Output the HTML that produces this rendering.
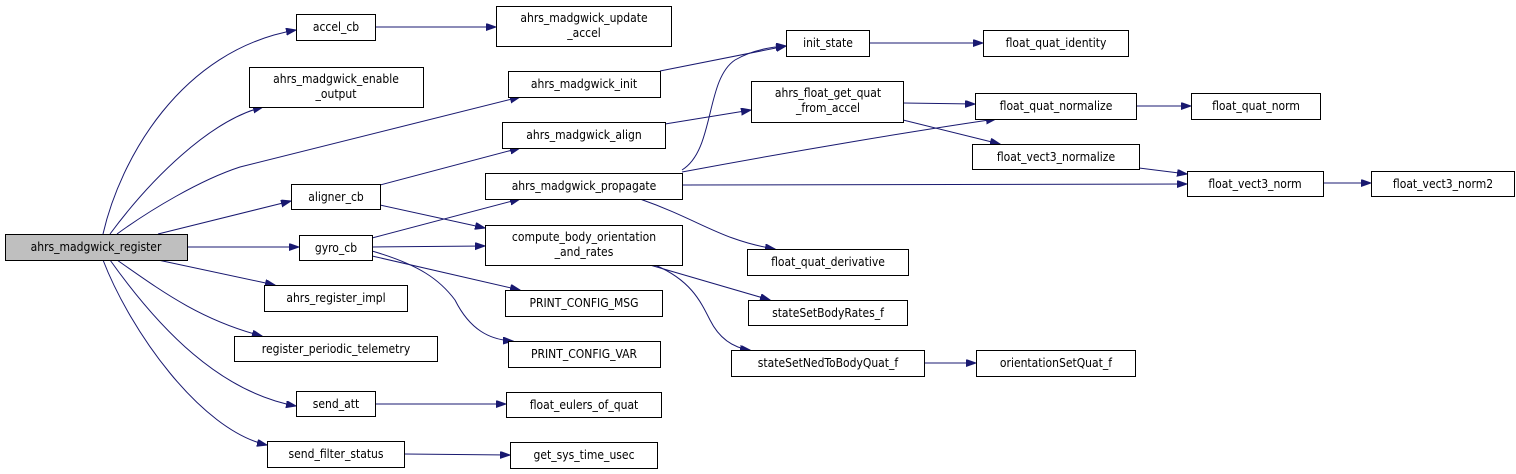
<!DOCTYPE html>
<html><head><meta charset="utf-8"><style>
html,body{margin:0;padding:0;background:#fff;}
svg{display:block}
text{font-family:"DejaVu Sans Condensed","DejaVu Sans","Liberation Sans",sans-serif;font-size:12px;fill:#000;text-anchor:middle}
rect{fill:#fff;stroke:#000;stroke-width:1}
path.e{fill:none;stroke:#191970;stroke-width:1}
</style></head><body>
<svg width="1516" height="474" viewBox="0 0 1516 474" xmlns="http://www.w3.org/2000/svg">
<defs><marker id="a" markerWidth="11" markerHeight="8" refX="10" refY="3.5" orient="auto" markerUnits="userSpaceOnUse"><path d="M0,0 L10,3.5 L0,7 z" fill="#191970" stroke="#191970"/></marker></defs>
<g marker-end="url(#a)">
<path class="e" d="M103,234 C120,160 180,50 296,30"/>
<path class="e" d="M110,234 C150,180 210,120 263,107"/>
<path class="e" d="M117,234 C150,210 200,180 240,167 L520,97"/>
<path class="e" d="M158,234 L291,201"/>
<path class="e" d="M187,247 L299,247"/>
<path class="e" d="M158,260 L275,285"/>
<path class="e" d="M117,260 C160,290 200,320 262,336"/>
<path class="e" d="M110,260 C160,330 220,392 296,406"/>
<path class="e" d="M103,260 C130,330 200,430 267,445"/>
<path class="e" d="M375,27 L496,27"/>
<path class="e" d="M380,185 L520,148"/>
<path class="e" d="M380,205 L485,228"/>
<path class="e" d="M372,238 L520,199"/>
<path class="e" d="M372,247 L485,246"/>
<path class="e" d="M372,256 L520,290"/>
<path class="e" d="M372,251 C420,265 440,280 455,300 C470,330 490,340 513,341"/>
<path class="e" d="M375,404 L506,404"/>
<path class="e" d="M404,454 L510,455"/>
<path class="e" d="M660,71 L786,46"/>
<path class="e" d="M665,124 L751,110"/>
<path class="e" d="M682,170 C715,150 705,80 735,60 C752,50 770,47 786,46"/>
<path class="e" d="M682,172 C800,150 920,130 996,119"/>
<path class="e" d="M682,185 L1187,184"/>
<path class="e" d="M640,199 C700,220 720,240 775,249"/>
<path class="e" d="M903,103 L975,104"/>
<path class="e" d="M903,120 L1000,144"/>
<path class="e" d="M1136,106 L1191,106"/>
<path class="e" d="M1139,168 L1187,174"/>
<path class="e" d="M1323,183 L1371,183"/>
<path class="e" d="M869,43 L983,43"/>
<path class="e" d="M650,265 L770,300"/>
<path class="e" d="M655,265 C690,280 700,300 710,320 C720,340 735,348 750,350"/>
<path class="e" d="M924,363 L976,363"/>
</g>
<rect x="5.5" y="234.5" width="182" height="26" style="fill:#bfbfbf"/><text x="96" y="251">ahrs_madgwick_register</text>
<rect x="296.5" y="14.5" width="79" height="26"/><text x="336" y="31">accel_cb</text>
<rect x="496.5" y="6.5" width="175" height="40"/><text x="584" y="22">ahrs_madgwick_update</text><text x="584" y="37">_accel</text>
<rect x="249.5" y="67.5" width="174" height="40"/><text x="336" y="83">ahrs_madgwick_enable</text><text x="336" y="98">_output</text>
<rect x="508.5" y="71.5" width="152" height="26"/><text x="584" y="88">ahrs_madgwick_init</text>
<rect x="502.5" y="122.5" width="163" height="26"/><text x="584" y="139">ahrs_madgwick_align</text>
<rect x="291.5" y="184.5" width="89" height="25"/><text x="336" y="201">aligner_cb</text>
<rect x="485.5" y="173.5" width="197" height="26"/><text x="584" y="190">ahrs_madgwick_propagate</text>
<rect x="485.5" y="225.5" width="197" height="40"/><text x="584" y="241">compute_body_orientation</text><text x="584" y="256">_and_rates</text>
<rect x="299.5" y="235.5" width="73" height="25"/><text x="336" y="252">gyro_cb</text>
<rect x="264.5" y="285.5" width="143" height="26"/><text x="336" y="302">ahrs_register_impl</text>
<rect x="505.5" y="290.5" width="157" height="26"/><text x="584" y="307">PRINT_CONFIG_MSG</text>
<rect x="234.5" y="336.5" width="203" height="25"/><text x="336" y="353">register_periodic_telemetry</text>
<rect x="508.5" y="341.5" width="152" height="26"/><text x="584" y="358">PRINT_CONFIG_VAR</text>
<rect x="296.5" y="391.5" width="79" height="25"/><text x="336" y="408">send_att</text>
<rect x="506.5" y="392.5" width="155" height="25"/><text x="584" y="409">float_eulers_of_quat</text>
<rect x="267.5" y="441.5" width="137" height="26"/><text x="336" y="458">send_filter_status</text>
<rect x="510.5" y="442.5" width="147" height="26"/><text x="584" y="459">get_sys_time_usec</text>
<rect x="786.5" y="30.5" width="83" height="26"/><text x="828" y="47">init_state</text>
<rect x="983.5" y="30.5" width="145" height="26"/><text x="1056" y="47">float_quat_identity</text>
<rect x="751.5" y="81.5" width="152" height="41"/><text x="828" y="97">ahrs_float_get_quat</text><text x="828" y="112">_from_accel</text>
<rect x="975.5" y="93.5" width="161" height="26"/><text x="1056" y="110">float_quat_normalize</text>
<rect x="1191.5" y="93.5" width="129" height="26"/><text x="1256" y="110">float_quat_norm</text>
<rect x="972.5" y="144.5" width="167" height="25"/><text x="1056" y="161">float_vect3_normalize</text>
<rect x="1187.5" y="171.5" width="136" height="25"/><text x="1255" y="188">float_vect3_norm</text>
<rect x="1371.5" y="171.5" width="143" height="25"/><text x="1443" y="188">float_vect3_norm2</text>
<rect x="747.5" y="249.5" width="161" height="26"/><text x="828" y="266">float_quat_derivative</text>
<rect x="748.5" y="300.5" width="159" height="25"/><text x="828" y="317">stateSetBodyRates_f</text>
<rect x="731.5" y="350.5" width="193" height="26"/><text x="828" y="367">stateSetNedToBodyQuat_f</text>
<rect x="976.5" y="350.5" width="159" height="26"/><text x="1056" y="367">orientationSetQuat_f</text>
</svg>
</body></html>
